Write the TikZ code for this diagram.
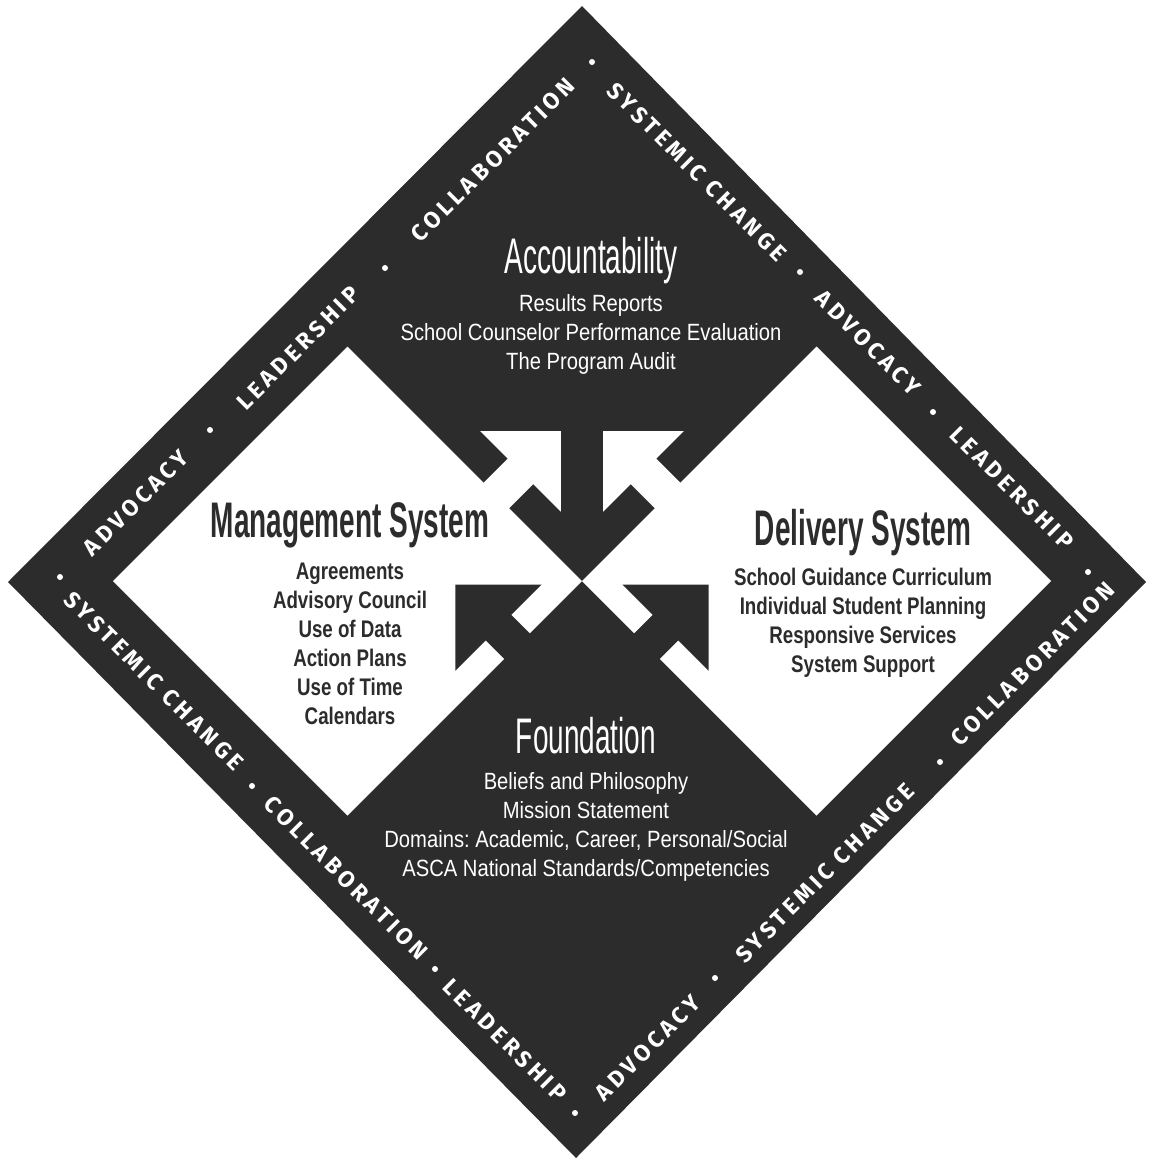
\documentclass[tikz,border=0pt]{standalone}
\usepackage{fontspec}
\usetikzlibrary{positioning,calc}
\definecolor{modelink}{HTML}{2C2C2C}
\newfontfamily\headfont[FakeStretch=0.56]{Liberation Sans}
\newfontfamily\listfont[FakeStretch=0.86]{Liberation Sans}
\newfontfamily\stronglist[FakeStretch=0.78]{Liberation Sans}
\newfontfamily\bandfont[LetterSpace=17]{Fira Sans}
\frenchspacing
\tikzset{
    bandword/.style={text=white,inner sep=0pt,font=\bandfont\bfseries\fontsize{23}{23}\selectfont},
    dotmark/.style={circle,fill=white,inner sep=0pt,minimum size=6pt},
    darkhead/.style={text=white,inner sep=0pt,anchor=base,font=\headfont\fontsize{50}{50}\selectfont},
    lighthead/.style={text=modelink,inner sep=0pt,anchor=base,font=\headfont\bfseries\fontsize{50}{50}\selectfont},
    darklist/.style={text=white,inner sep=0pt,align=center,font=\listfont\fontsize{23.5}{29}\selectfont},
    lightlist/.style={text=modelink,inner sep=0pt,align=center,font=\stronglist\bfseries\fontsize{24}{29}\selectfont},
    % arrow into Accountability (white), arrow out of Foundation (dark)
    toparrow/.pic={\path[pic actions] (103,-12) -- (103,34) -- (64,34) -- (121,91) -- (178,34) -- (139,34) -- (139,-12) -- cycle;},
    basearrow/.pic={\path[pic actions] (74,-12) -- (74,26) -- (31,26) -- (92,87) -- (153,26) -- (110,26) -- (110,-12) -- cycle;},
}

\begin{document}
\begin{tikzpicture}[x=1pt,y=1pt]
    \useasboundingbox (0,0) rectangle (1152,-1162);
    % outer and inner diamond
    \coordinate (oL) at (8,-582);
    \coordinate (oT) at (582,-6);
    \coordinate (oR) at (1146,-582);
    \coordinate (oB) at (576,-1158);
    \coordinate (iL) at (113,-581);
    \coordinate (iT) at (582,-112);
    \coordinate (iR) at (1051,-581);
    \coordinate (iB) at (582,-1050);
    \coordinate (mid) at (582,-581);
    \fill[modelink] (oL) -- (oT) -- (oR) -- (oB) -- cycle;
    \fill[white] (iL) -- ($(iL)!.5!(iT)$) -- (mid) -- ($(iL)!.5!(iB)$) -- cycle;
    \fill[white] (iR) -- ($(iR)!.5!(iT)$) -- (mid) -- ($(iR)!.5!(iB)$) -- cycle;

    % arrows across the quadrant borders
    \pic[fill=white,rotate=135,yscale=-1] at (mid) {toparrow};
    \pic[fill=white,rotate=45] at (mid) {toparrow};
    \pic[fill=modelink,rotate=225,yscale=-1] at (mid) {basearrow};
    \pic[fill=modelink,rotate=-45] at (mid) {basearrow};

    % band
    \node[bandword,rotate=45] (ul1) at (136,-503) {ADVOCACY};
    \node[bandword,rotate=45] (ul2) at (298,-348) {LEADERSHIP};
    \node[bandword,rotate=45] (ul3) at (493,-160) {COLLABORATION};
    \node[bandword,rotate=-45] (ur1) at (697,-172) {SYSTEMIC CHANGE};
    \node[bandword,rotate=-45] (ur2) at (868,-343) {ADVOCACY};
    \node[bandword,rotate=-45] (ur3) at (1012,-488) {LEADERSHIP};
    \node[bandword,rotate=45] (lr1) at (648,-1048) {ADVOCACY};
    \node[bandword,rotate=45] (lr2) at (825,-873) {SYSTEMIC CHANGE};
    \node[bandword,rotate=45] (lr3) at (1033,-664) {COLLABORATION};
    \node[bandword,rotate=-45] (ll1) at (154,-681) {SYSTEMIC CHANGE};
    \node[bandword,rotate=-45] (ll2) at (346,-878) {COLLABORATION};
    \node[bandword,rotate=-45] (ll3) at (505,-1040) {LEADERSHIP};
    \node[dotmark] (d1) at (60,-577) {};
    \node[dotmark] (d2) at (210,-430) {};
    \node[dotmark] (d3) at (385,-268) {};
    \node[dotmark] (d4) at (592,-62) {};
    \node[dotmark] (d5) at (800,-272) {};
    \node[dotmark] (d6) at (933,-412) {};
    \node[dotmark] (d7) at (1088,-572) {};
    \node[dotmark] (d8) at (940,-762) {};
    \node[dotmark] (d9) at (715,-978) {};
    \node[dotmark] (d10) at (575,-1113) {};
    \node[dotmark] (d11) at (435,-969) {};
    \node[dotmark] (d12) at (252,-786) {};

    % quadrants
    \node[darkhead] (acc) at (591,-273) {Accountability};
    \node[darklist,below=11pt of acc] (accitems)
        {Results Reports\\School Counselor Performance Evaluation\\The Program Audit};
    \node[lighthead] (mgmt) at (350,-537) {Management System};
    \node[lightlist,below=15pt of mgmt] (mgmtitems)
        {Agreements\\Advisory Council\\Use of Data\\Action Plans\\Use of Time\\Calendars};
    \node[lighthead] (deliv) at (863,-545) {Delivery System};
    \node[lightlist,below=12pt of deliv] (delivitems)
        {School Guidance Curriculum\\Individual Student Planning\\Responsive Services\\System Support};
    \node[darkhead] (found) at (586,-753) {Foundation};
    \node[darklist,below=19pt of found] (founditems)
        {Beliefs and Philosophy\\Mission Statement\\Domains: Academic, Career, Personal/Social\\ASCA National Standards/Competencies};
\end{tikzpicture}
\end{document}
